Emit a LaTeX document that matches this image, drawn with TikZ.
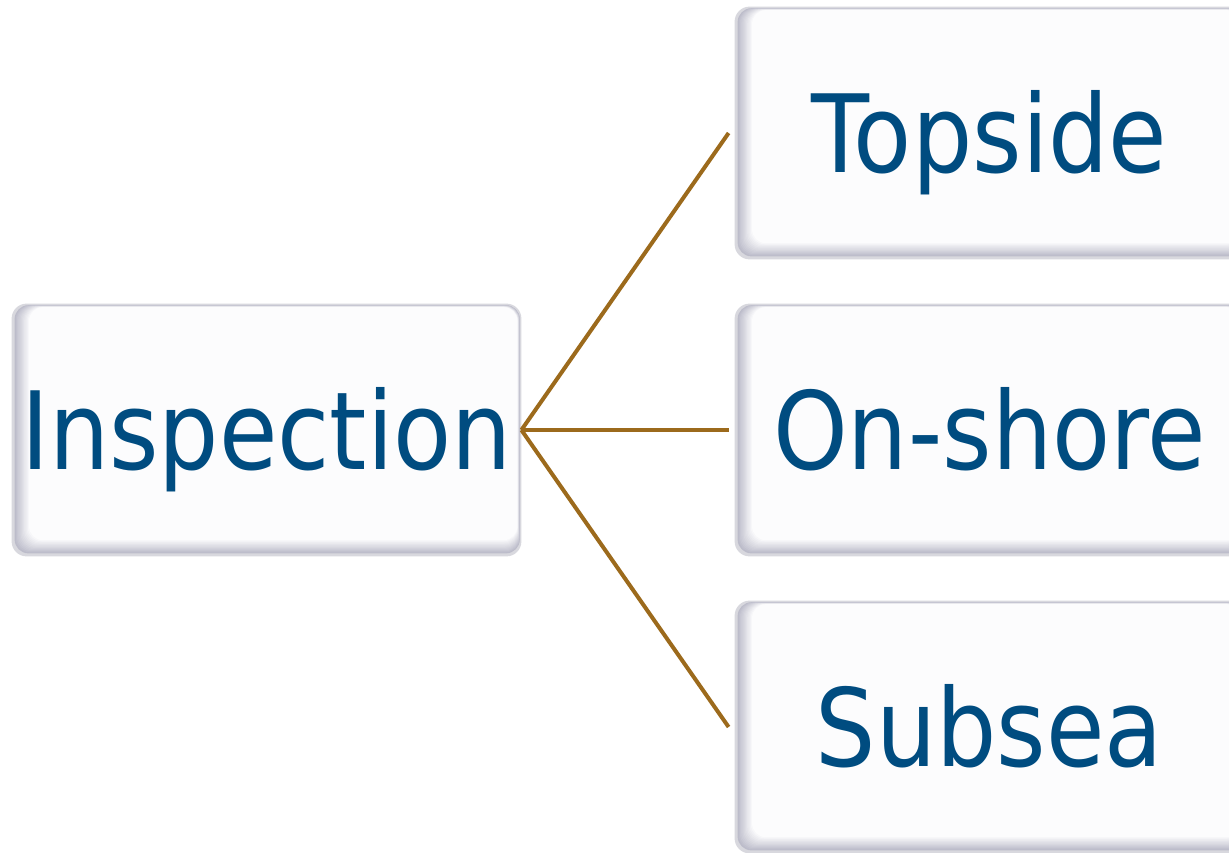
\documentclass[tikz,border=0pt]{standalone}
\usepackage{fontspec}
\newfontfamily\boxfont[FakeStretch=0.88]{DejaVu Sans}
\usetikzlibrary{backgrounds}

\definecolor{labelblue}{RGB}{0,76,128}
\definecolor{linkbrown}{RGB}{156,106,28}
\definecolor{boxface}{RGB}{252,252,253}
\definecolor{rimgray}{RGB}{188,188,202}
\definecolor{edgegray}{RGB}{216,216,222}

\tikzset{
  item/.style={minimum width=254.5pt, minimum height=126pt, inner sep=0pt,
    text height=39.4pt, text depth=0pt,
    font=\boxfont\fontsize{54}{60}\selectfont, text=labelblue},
  link/.style={draw=linkbrown, line width=2pt},
}

\begin{document}
\begin{tikzpicture}[x=0.5pt,y=0.5pt]
\useasboundingbox (0,0) rectangle (1229,852);
\clip (0,0) rectangle (1229,852);

% root and the three branches
\node[item] (insp)  at (266.5,422) {Inspection};
\node[item] (top)   at (989.5,719) {Topside};
\node[item] (shore) at (989.5,422) {On-shore};
\node[item] (sea)   at (989.5,125) {Subsea};

% bevelled panels behind the labels
\begin{scope}[on background layer]
  \foreach \n in {insp,top,shore,sea}{
    \fill[edgegray, rounded corners=7.5pt] (\n.south west) rectangle (\n.north east);
    \fill[rimgray, rounded corners=7pt]
      ([xshift=1.5pt,yshift=1.5pt]\n.south west) rectangle ([xshift=-0.8pt,yshift=-0.8pt]\n.north east);
    \foreach \k in {1,...,12}{
      \pgfmathsetmacro\tint{\k*100/12}
      \fill[boxface!\tint!rimgray, rounded corners=7pt]
        ([xshift=1.5pt+\k*0.6pt,yshift=1.5pt+\k*0.55pt]\n.south west)
        rectangle ([xshift=-0.8pt-\k*0.1pt,yshift=-0.8pt-\k*0.08pt]\n.north east);
    }
  }
\end{scope}

% connectors
\draw[link] (insp.east) -- ([xshift=-3pt]top.west);
\draw[link] (insp.east) -- ([xshift=-3pt]shore.west);
\draw[link] (insp.east) -- ([xshift=-3pt]sea.west);
\end{tikzpicture}
\end{document}
